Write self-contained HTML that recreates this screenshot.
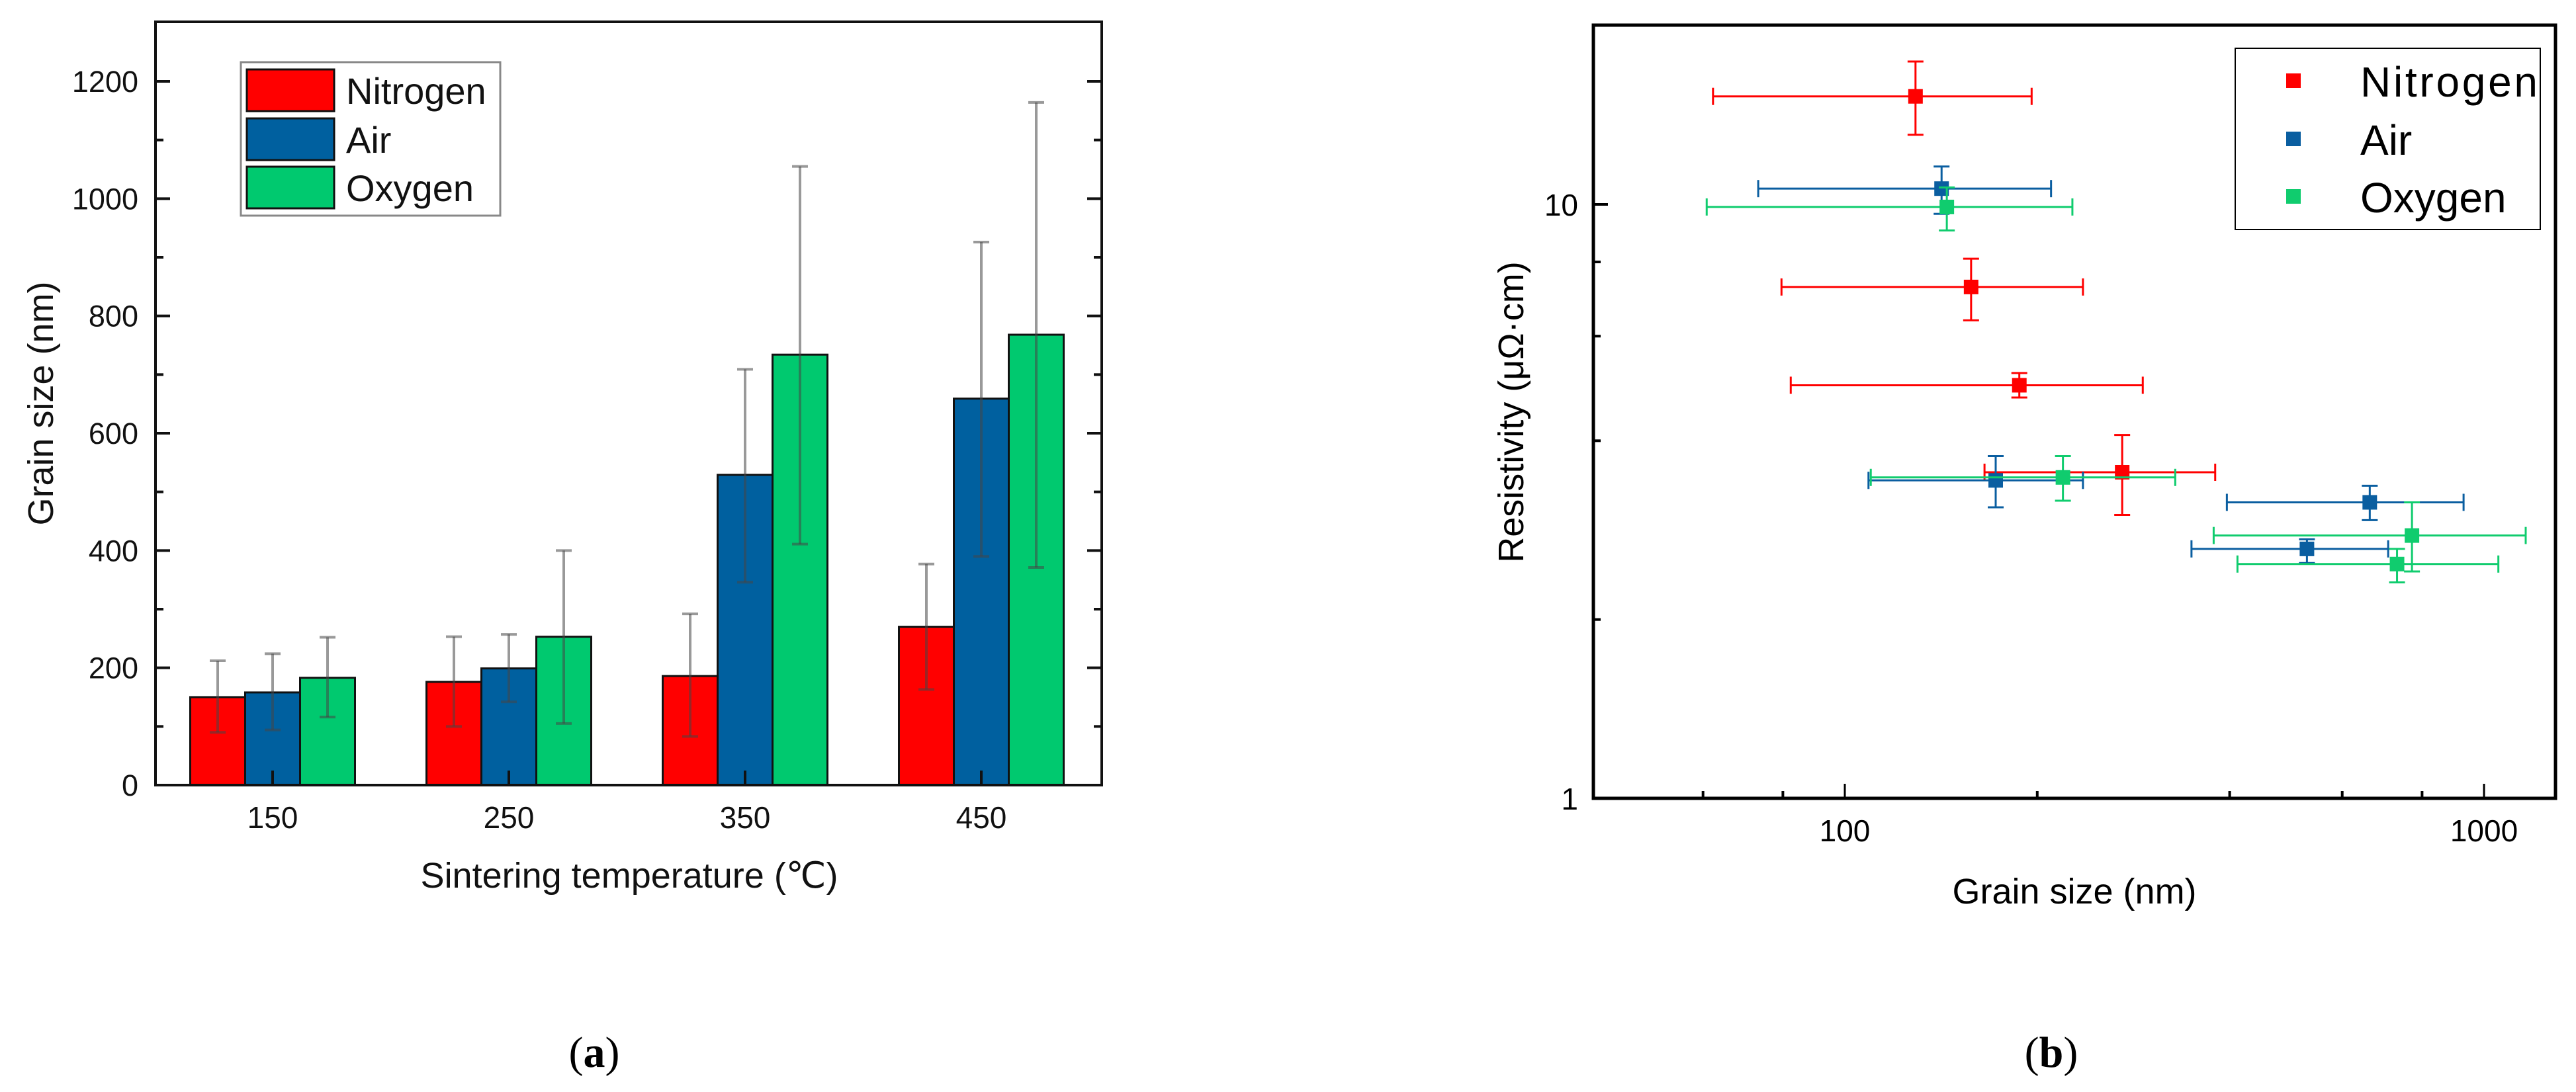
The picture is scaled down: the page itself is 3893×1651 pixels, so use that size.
<!DOCTYPE html>
<html><head><meta charset="utf-8">
<style>
html,body{margin:0;padding:0;background:#fff;}
svg{display:block;font-family:"Liberation Sans",Arial,sans-serif;}
</style></head>
<body>
<svg id="fig" width="3893" height="1651" viewBox="0 0 3893 1651" xmlns="http://www.w3.org/2000/svg">
<g id="chartA"></g>
<g id="chartB"></g>
<text x="898" y="1613" text-anchor="middle" font-family="Liberation Serif, serif" font-size="66">(<tspan font-weight="bold">a</tspan>)</text>
<text x="3100" y="1613" text-anchor="middle" font-family="Liberation Serif, serif" font-size="66">(<tspan font-weight="bold">b</tspan>)</text>
</svg>
<script>
// ---------- Chart A data ----------
const catLabels = ["150", "250", "350", "450"];
const seriesNames = ["Nitrogen", "Air", "Oxygen"];
const nitrogenVals = [150, 176, 186, 270];
const airVals = [158, 199, 529, 659];
const oxygenVals = [183, 253, 734, 768];
const nitrogenLo = [90, 100, 83, 163];
const nitrogenHi = [212, 253, 292, 377];
const airLo = [94, 142, 346, 390];
const airHi = [224, 257, 709, 926];
const oxygenLo = [116, 105, 411, 371];
const oxygenHi = [252, 400, 1055, 1164];
const yTicksA = [0, 200, 400, 600, 800, 1000, 1200];

// ---------- Chart B data ----------
const nGrain = [129, 157.6, 187.5, 271.6];
const nGrainLo = [62.2, 79.6, 82.3, 165.4];
const nGrainHi = [196, 235.8, 292.5, 379.7];
const nRes = [15.2, 7.26, 4.96, 3.54];
const nResLo = [13.1, 6.38, 4.73, 3.0];
const nResHi = [17.4, 8.1, 5.2, 4.09];
const aGrain = [141.7, 172.2, 662.6, 528.4];
const aGrainLo = [73.2, 108.9, 396, 348.6];
const aGrainHi = [210.2, 235.8, 929, 708];
const aRes = [10.63, 3.43, 3.15, 2.63];
const aResLo = [9.64, 3.09, 2.94, 2.49];
const aResHi = [11.58, 3.77, 3.36, 2.73];
const oGrain = [144.4, 219.4, 771.4, 731];
const oGrainLo = [60.8, 109.8, 377.6, 411.4];
const oGrainHi = [227, 328.8, 1162, 1053];
const oRes = [9.9, 3.47, 2.77, 2.48];
const oResLo = [9.04, 3.17, 2.41, 2.31];
const oResHi = [10.68, 3.77, 3.15, 2.63];
const xTicksB = [100, 1000];
const yTicksB = [1, 10];

const NS = "http://www.w3.org/2000/svg";
function mk(parent, tag, attrs, text) {
  const e = document.createElementNS(NS, tag);
  for (const k in attrs) e.setAttribute(k, attrs[k]);
  if (text !== undefined) e.textContent = text;
  parent.appendChild(e);
  return e;
}

// ================= Chart A =================
(function () {
  const g = document.getElementById("chartA");
  const L = 235, R = 1665, T = 33, B = 1187;
  const y = v => B - (v - 0) * (1187 - 123) / 1200;
  const cx = i => 412 + i * 357;
  const bw = 83;
  const colors = ["#ff0000", "#00609f", "#00c96f"];
  const vals = [nitrogenVals, airVals, oxygenVals];
  const los = [nitrogenLo, airLo, oxygenLo];
  const his = [nitrogenHi, airHi, oxygenHi];

  for (let s = 0; s < 3; s++) {
    for (let i = 0; i < catLabels.length; i++) {
      const x0 = cx(i) + (s - 1) * bw - bw / 2;
      const r = mk(g, "rect", { x: x0, y: y(vals[s][i]), width: bw, height: B - y(vals[s][i]), fill: colors[s], stroke: "#111", "stroke-width": 3 });
      
      
    }
  }
  for (let s = 0; s < 3; s++) {
    for (let i = 0; i < catLabels.length; i++) {
      const xc = cx(i) + (s - 1) * bw;
      const eg = mk(g, "g", { stroke: "rgba(70,70,70,0.55)", "stroke-width": 4 });
      
      
      mk(eg, "line", { x1: xc, x2: xc, y1: y(his[s][i]), y2: y(los[s][i]) });
      mk(eg, "line", { x1: xc - 12, x2: xc + 12, y1: y(his[s][i]), y2: y(his[s][i]) });
      mk(eg, "line", { x1: xc - 12, x2: xc + 12, y1: y(los[s][i]), y2: y(los[s][i]) });
    }
  }
  const fr = mk(g, "rect", { x: L, y: T, width: R - L, height: B - T, fill: "none", stroke: "#111", "stroke-width": 4 });
  
  
  for (let v = 0; v <= 1200; v += 100) {
    const major = v % 200 === 0;
    const len = major ? 22 : 12;
    mk(g, "line", { x1: L, x2: L + len, y1: y(v), y2: y(v), stroke: "#111", "stroke-width": 4 });
    mk(g, "line", { x1: R, x2: R - len, y1: y(v), y2: y(v), stroke: "#111", "stroke-width": 4 });
  }
  for (const v of yTicksA) {
    const t = mk(g, "text", { x: 209, y: y(v) + 16, "text-anchor": "end", "font-size": 45, fill: "#111" }, String(v));
    
    
  }
  for (let i = 0; i < catLabels.length; i++) {
    mk(g, "line", { x1: cx(i), x2: cx(i), y1: B, y2: B - 22, stroke: "#111", "stroke-width": 4 });
    const t = mk(g, "text", { x: cx(i), y: 1252, "text-anchor": "middle", "font-size": 46, fill: "#111" }, catLabels[i]);
    
    
  }
  const xt = mk(g, "text", { x: 951, y: 1342, "text-anchor": "middle", "font-size": 54, fill: "#111" }, "Sintering temperature (℃)");
  
  
  const yt = mk(g, "text", { x: 0, y: 0, "text-anchor": "middle", "font-size": 54, fill: "#111", transform: "translate(80,610) rotate(-90)" }, "Grain size (nm)");
  
  
  const lg = mk(g, "g", {});
  
  
  mk(lg, "rect", { x: 364, y: 94, width: 392, height: 232, fill: "#fff", stroke: "#888", "stroke-width": 3 });
  const rowsY = [105, 179, 252];
  for (let s = 0; s < 3; s++) {
    const e = mk(lg, "g", {});
    
    
    mk(e, "rect", { x: 373, y: rowsY[s], width: 132, height: 63, fill: colors[s], stroke: "#111", "stroke-width": 3 });
    mk(e, "text", { x: 523, y: rowsY[s] + 52, "font-size": 56, fill: "#111" }, seriesNames[s]);
  }
})();

// ================= Chart B =================
(function () {
  const g = document.getElementById("chartB");
  const L = 2408, R = 3862, T = 38, B = 1207;
  const x = v => 2788 + (Math.log10(v) - 2) * 966;
  const y = v => 1207 - Math.log10(v) * 898;
  const colors = ["#ff0000", "#0a5ea0", "#10cc6e"];
  const gx = [nGrain, aGrain, oGrain], gxl = [nGrainLo, aGrainLo, oGrainLo], gxh = [nGrainHi, aGrainHi, oGrainHi];
  const ry = [nRes, aRes, oRes], ryl = [nResLo, aResLo, oResLo], ryh = [nResHi, aResHi, oResHi];

  const fr = mk(g, "rect", { x: L, y: T, width: R - L, height: B - T, fill: "none", stroke: "#000", "stroke-width": 5 });
  
  
  const xMinor = [60, 80, 200, 400, 600, 800];
  for (const v of xMinor) mk(g, "line", { x1: x(v), x2: x(v), y1: B, y2: B - 11, stroke: "#000", "stroke-width": 4 });
  for (const v of xTicksB) {
    mk(g, "line", { x1: x(v), x2: x(v), y1: B, y2: B - 22, stroke: "#000", "stroke-width": 3 });
    const t = mk(g, "text", { x: x(v), y: 1272, "text-anchor": "middle", "font-size": 46, fill: "#000" }, String(v));
    
    
  }
  const yMinor = [2, 4, 6, 8];
  for (const v of yMinor) mk(g, "line", { x1: L, x2: L + 11, y1: y(v), y2: y(v), stroke: "#000", "stroke-width": 4 });
  for (const v of yTicksB) {
    mk(g, "line", { x1: L, x2: L + 22, y1: y(v), y2: y(v), stroke: "#000", "stroke-width": 4 });
    const t = mk(g, "text", { x: 2385, y: y(v) + 17, "text-anchor": "end", "font-size": 46, fill: "#000" }, String(v));
    
    
  }
  const xt = mk(g, "text", { x: 3135, y: 1366, "text-anchor": "middle", "font-size": 54, fill: "#000" }, "Grain size (nm)");
  
  
  const yt = mk(g, "text", { x: 0, y: 0, "text-anchor": "middle", "font-size": 54, fill: "#000", transform: "translate(2302,623) rotate(-90)" }, "Resistivity (μΩ·cm)");
  
  

  for (let s = 0; s < 3; s++) {
    for (let i = 0; i < gx[s].length; i++) {
      const pg = mk(g, "g", { stroke: colors[s], "stroke-width": 3 });
      
      
      const px = x(gx[s][i]), py = y(ry[s][i]);
      mk(pg, "line", { x1: x(gxl[s][i]), x2: x(gxh[s][i]), y1: py, y2: py });
      mk(pg, "line", { x1: x(gxl[s][i]), x2: x(gxl[s][i]), y1: py - 13, y2: py + 13 });
      mk(pg, "line", { x1: x(gxh[s][i]), x2: x(gxh[s][i]), y1: py - 13, y2: py + 13 });
      mk(pg, "line", { x1: px, x2: px, y1: y(ryh[s][i]), y2: y(ryl[s][i]) });
      mk(pg, "line", { x1: px - 12, x2: px + 12, y1: y(ryh[s][i]), y2: y(ryh[s][i]) });
      mk(pg, "line", { x1: px - 12, x2: px + 12, y1: y(ryl[s][i]), y2: y(ryl[s][i]) });
      mk(pg, "rect", { x: px - 11, y: py - 11, width: 22, height: 22, fill: colors[s], stroke: "none" });
    }
  }
  const lg = mk(g, "g", {});
  
  
  mk(lg, "rect", { x: 3378, y: 73, width: 461, height: 274, fill: "#fff", stroke: "#000", "stroke-width": 2 });
  const rowsY = [122, 210, 297];
  for (let s = 0; s < 3; s++) {
    const e = mk(lg, "g", {});
    
    
    mk(e, "rect", { x: 3455, y: rowsY[s] - 11, width: 22, height: 22, fill: colors[s] });
    const attrs = { x: 3567, y: rowsY[s] + 24, "font-size": 64, fill: "#000" };
    if (s === 0) attrs.textLength = 268;
    mk(e, "text", attrs, seriesNames[s]);
  }
})();
</script>
</body></html>
